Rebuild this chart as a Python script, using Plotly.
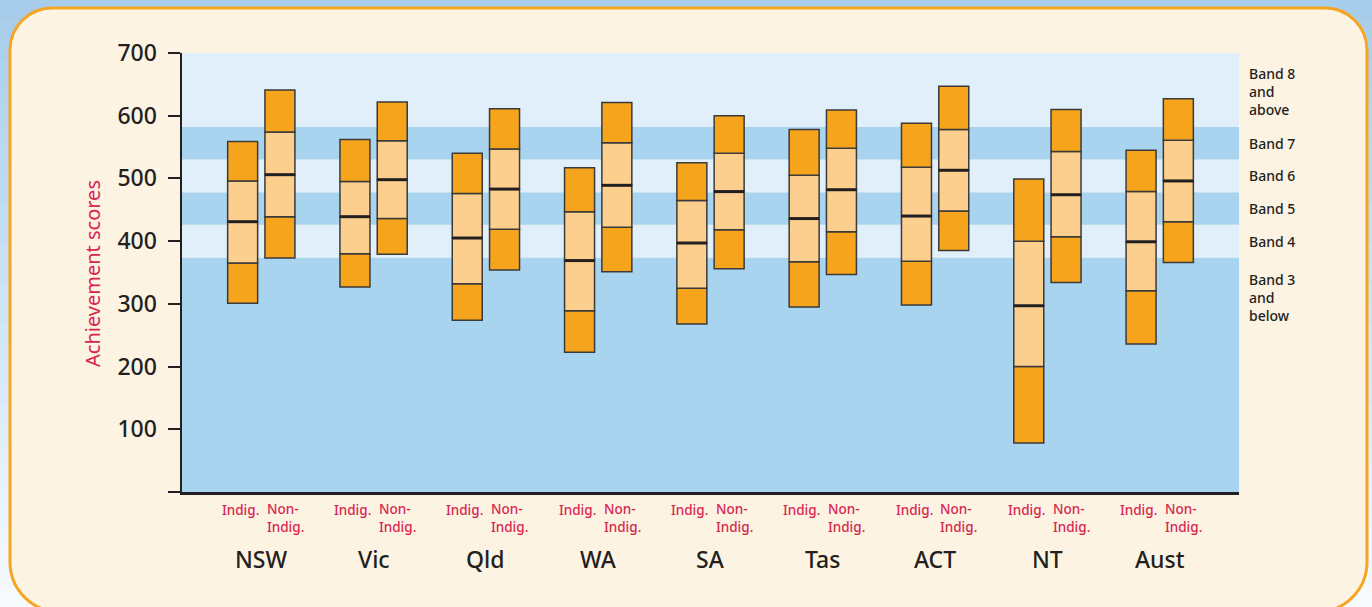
import plotly.graph_objects as go

# ---------------- data ----------------
states = ["NSW", "Vic", "Qld", "WA", "SA", "Tas", "ACT", "NT", "Aust"]

indig_p5 = [301, 327, 274, 223, 268, 295, 298, 78, 236]
indig_p20 = [365, 380, 332, 289, 325, 367, 368, 200, 321]
indig_mean = [431, 439, 405, 369, 397, 436, 440, 297, 399]
indig_p80 = [496, 495, 476, 447, 465, 505, 518, 400, 479]
indig_p95 = [559, 562, 540, 517, 525, 578, 588, 499, 545]

non_p5 = [373, 379, 354, 351, 356, 347, 385, 334, 366]
non_p20 = [439, 436, 419, 422, 418, 415, 448, 407, 431]
non_mean = [506, 498, 483, 489, 479, 482, 513, 474, 496]
non_p80 = [574, 560, 547, 557, 540, 548, 578, 543, 561]
non_p95 = [641, 622, 611, 621, 600, 609, 647, 610, 627]

band_edges = [0, 374, 426, 478, 530, 582, 700]
band_labels = ["Band 3<br>and<br>below", "Band 4", "Band 5", "Band 6", "Band 7",
               "Band 8<br>and<br>above"]
band_label_y = [310, 400, 452, 504, 556, 638]

y_ticks = [0, 100, 200, 300, 400, 500, 600, 700]
y_ticktext = ["", "100", "200", "300", "400", "500", "600", "700"]

# ---------------- style ----------------
W, H = 1372, 607
ML, MR, MT, MB = 182, 133, 53, 115
PW, PH = W - ML - MR, H - MT - MB

DARK_OR = "#F7A41D"
LIGHT_OR = "#FCCF8E"
OUTLINE = "#3A3A3A"
TEXT = "#231F20"
RED = "#D7264F"
BAND_DARK = "#A9D4EF"
BAND_LIGHT = "#E1EFFA"
FRAME_FILL = "#FDF3E3"
FRAME_LINE = "#F6A623"
FONT = "Noto Sans"

BAR_W = 0.267
OFF = 0.166
XR = [-0.706, 8.706]


def px(xp):
    return (xp - ML) / PW


def py(yp):
    return (H - MB - yp) / PH


fig = go.Figure()

idx = list(range(len(states)))
groups = [
    (-OFF, [indig_p5, indig_p20, indig_mean, indig_p80, indig_p95]),
    (OFF, [non_p5, non_p20, non_mean, non_p80, non_p95]),
]
seg_colors = [DARK_OR, LIGHT_OR, LIGHT_OR, DARK_OR]

for off, pcts in groups:
    xs = [i + off for i in idx]
    for s in range(4):
        lo, hi = pcts[s], pcts[s + 1]
        fig.add_trace(go.Bar(
            x=xs, base=lo, y=[h - l for h, l in zip(hi, lo)],
            width=BAR_W, marker=dict(color=seg_colors[s],
                                     line=dict(color=OUTLINE, width=1.5)),
            hoverinfo="skip", showlegend=False))
    # mean line
    mx, my = [], []
    for x, m in zip(xs, pcts[2]):
        mx += [x - BAR_W / 2, x + BAR_W / 2, None]
        my += [m, m, None]
    fig.add_trace(go.Scatter(x=mx, y=my, mode="lines",
                             line=dict(color=TEXT, width=3),
                             hoverinfo="skip", showlegend=False))

shapes = []
# outer gradient background (paper coords, drawn below everything)
top_c = (168, 205, 234)
bot_c = (246, 250, 253)
N = 30
for k in range(N):
    t = k / (N - 1)
    c = tuple(int(round(top_c[j] + (bot_c[j] - top_c[j]) * t)) for j in range(3))
    y0p = H * k / N
    y1p = H * (k + 1) / N + 1
    shapes.append(dict(type="rect", xref="paper", yref="paper", layer="below",
                       x0=px(0), x1=px(W), y0=py(y1p), y1=py(y0p),
                       fillcolor="rgb(%d,%d,%d)" % c, line=dict(width=0)))

# rounded frame
fx0, fx1, fy0, fy1 = 10, 1367, 8, 612
rt, rb = 42, 50


def P(x, y):
    return "%.5f,%.5f" % (px(x), py(y))


kt, kb = 0.5523 * rt, 0.5523 * rb
path = ("M " + P(fx0 + rt, fy0) + " L " + P(fx1 - rt, fy0) +
        " C " + P(fx1 - rt + kt, fy0) + " " + P(fx1, fy0 + rt - kt) + " " + P(fx1, fy0 + rt) +
        " L " + P(fx1, fy1 - rb) +
        " C " + P(fx1, fy1 - rb + kb) + " " + P(fx1 - rb + kb, fy1) + " " + P(fx1 - rb, fy1) +
        " L " + P(fx0 + rb, fy1) +
        " C " + P(fx0 + rb - kb, fy1) + " " + P(fx0, fy1 - rb + kb) + " " + P(fx0, fy1 - rb) +
        " L " + P(fx0, fy0 + rt) +
        " C " + P(fx0, fy0 + rt - kt) + " " + P(fx0 + rt - kt, fy0) + " " + P(fx0 + rt, fy0) + " Z")
shapes.append(dict(type="path", xref="paper", yref="paper", layer="below",
                   path=path, fillcolor=FRAME_FILL,
                   line=dict(color=FRAME_LINE, width=3)))

# achievement bands (data coords, drawn inside the plot area)
for b in range(len(band_edges) - 1):
    shapes.append(dict(type="rect", xref="x", yref="y", layer="below",
                       x0=XR[0], x1=XR[1], y0=band_edges[b], y1=band_edges[b + 1],
                       fillcolor=BAND_DARK if b % 2 == 0 else BAND_LIGHT,
                       line=dict(width=0)))

annotations = []
for lbl, yv in zip(band_labels, band_label_y):
    annotations.append(dict(text=lbl, xref="paper", yref="y", x=px(1247), y=yv,
                            xanchor="left", yanchor="middle", align="left",
                            showarrow=False,
                            font=dict(family=FONT, size=14, color=TEXT, weight=500)))

for i, st in enumerate(states):
    annotations.append(dict(text="Indig.", xref="x", yref="paper",
                            x=i - 0.005, y=py(510), xanchor="right", yanchor="middle",
                            showarrow=False,
                            font=dict(family=FONT, size=13.5, color=RED, weight=500)))
    annotations.append(dict(text="Non-<br>Indig.", xref="x", yref="paper",
                            x=i + 0.03, y=py(518), xanchor="left", yanchor="middle",
                            align="left", showarrow=False,
                            font=dict(family=FONT, size=13.5, color=RED, weight=500)))
    annotations.append(dict(text=st, xref="x", yref="paper", x=i, y=py(559),
                            xanchor="center", yanchor="middle", showarrow=False,
                            font=dict(family=FONT, size=23, color=TEXT, weight=500)))

annotations.append(dict(text="Achievement scores", xref="paper", yref="paper",
                        x=px(92), y=py(274), xanchor="center", yanchor="middle",
                        textangle=-90, showarrow=False,
                        font=dict(family=FONT, size=20, color=RED)))

fig.update_layout(
    width=W, height=H,
    margin=dict(l=ML, r=MR, t=MT, b=MB, pad=0),
    paper_bgcolor="#FFFFFF",
    plot_bgcolor="rgba(0,0,0,0)",
    barmode="overlay",
    bargap=0,
    showlegend=False,
    hovermode=False,
    shapes=shapes,
    annotations=annotations,
    xaxis=dict(range=XR, showgrid=False, zeroline=False, showticklabels=False,
               ticks="", showline=True, linecolor=TEXT, linewidth=2.5, fixedrange=True),
    yaxis=dict(range=[0, 700], tickvals=y_ticks, ticktext=y_ticktext,
               showgrid=False, zeroline=False, showline=True, linecolor=TEXT,
               linewidth=2.5, ticks="outside", ticklen=12, tickwidth=2, tickcolor=TEXT,
               ticklabelstandoff=6,
               tickfont=dict(family=FONT, size=23, color=TEXT, weight=500),
               fixedrange=True),
)

fig.write_html("out.html",
               config={"displayModeBar": False, "staticPlot": True},
               post_script="document.body.style.margin='0';"
                           "document.body.style.overflow='hidden';")
